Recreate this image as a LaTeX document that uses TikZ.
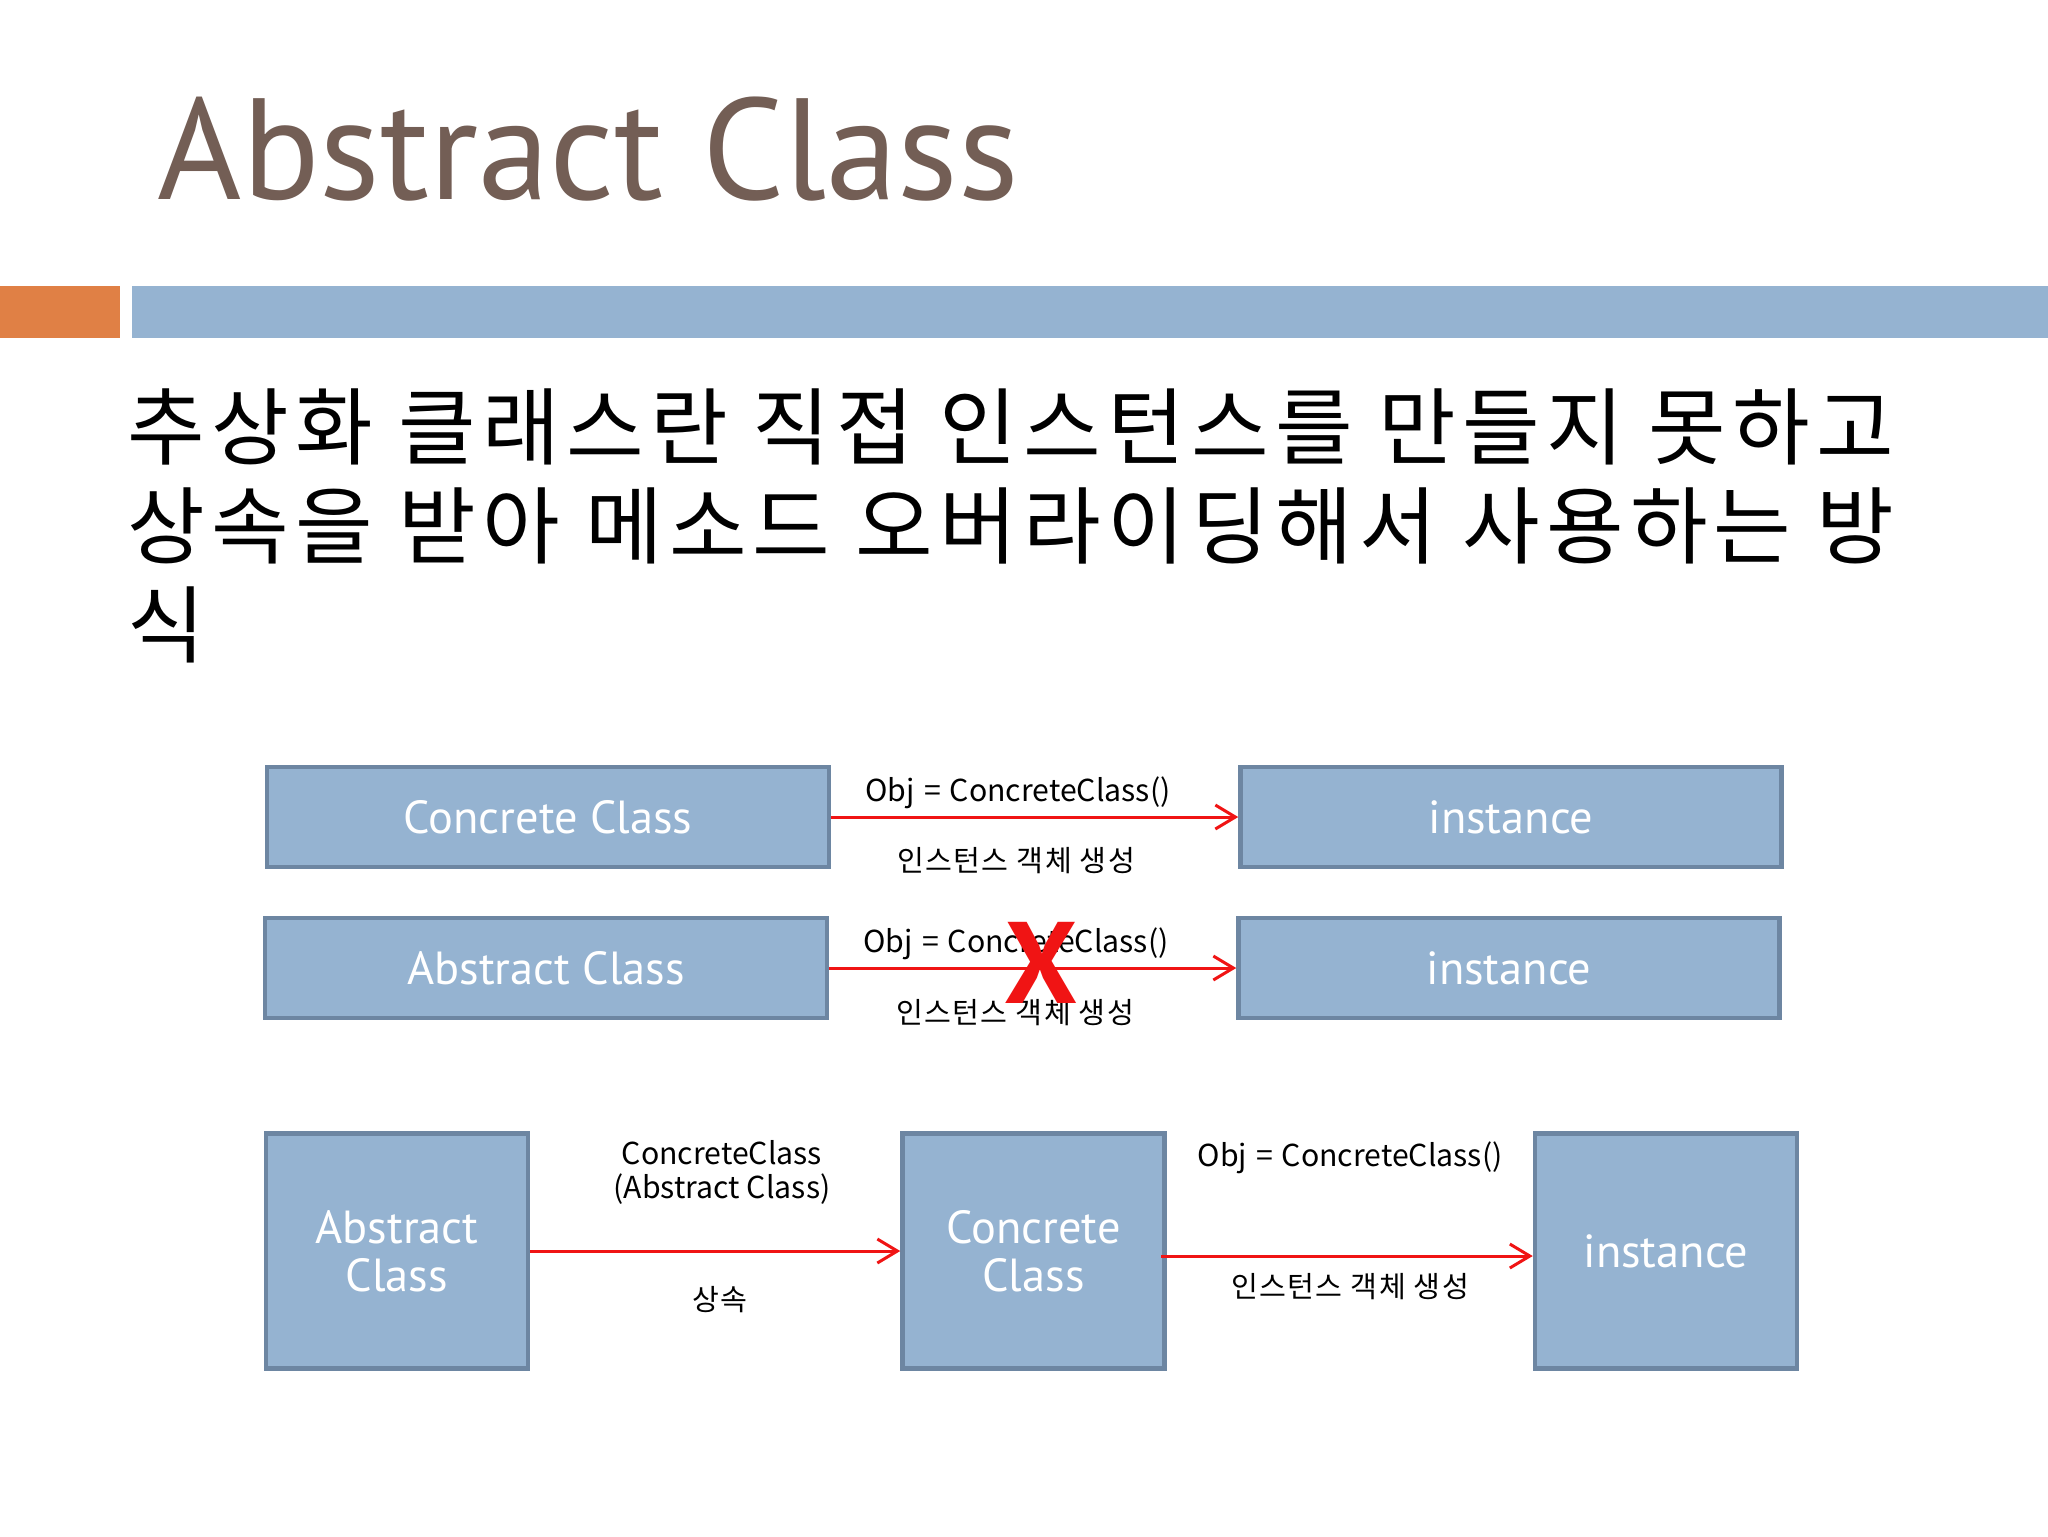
\documentclass[tikz,border=0pt]{standalone}
\usepackage{fontspec}
\setmainfont{PT Sans}
\newfontfamily\krfont{Noto Sans CJK KR}
\newfontfamily\krwide[LetterSpace=7.5]{Noto Sans CJK KR}
\newfontfamily\krsmall[LetterSpace=5]{Noto Sans CJK KR}
\usetikzlibrary{positioning, arrows.meta}
\definecolor{slidebrown}{RGB}{115,94,85}
\definecolor{slideorange}{RGB}{224,128,69}
\definecolor{slideblue}{RGB}{149,179,209}
\definecolor{boxedge}{RGB}{109,134,162}
\definecolor{linkred}{RGB}{240,20,20}

\begin{document}
\begin{tikzpicture}[
        x=0.1mm, y=-0.1mm,
        node distance = 5mm and 40.7mm,
        classbox/.style = {draw=boxedge, line width=0.45mm, fill=slideblue, minimum height=10mm, align=center, text=white, font=\fontsize{13.2}{13.7}\selectfont},
        widebox/.style = {classbox, minimum width=56.2mm},
        tallbox/.style = {classbox, minimum width=26.2mm, minimum height=23.5mm},
        introline/.style = {anchor=base west, inner sep=0, font=\krwide\fontsize{24}{28}\selectfont},
        codelabel/.style = {inner sep=0, align=center, font=\krfont\fontsize{8.6}{9.7}\selectfont},
        krlabel/.style = {inner sep=0, font=\krsmall\fontsize{8.3}{9}\selectfont},
        redarrow/.style = {-{Straight Barb[length=2mm, width=2.4mm]}, linkred, line width=0.3mm},
    ]
    \fill[white] (0,0) rectangle (2048,1536);
    \useasboundingbox (0,0) rectangle (2048,1536);
    % header
    \node[anchor=base west, inner sep=0, text=slidebrown, font=\fontsize{41}{41}\selectfont] (title) at (157,199) {Abstract Class};
    \fill[slideorange] (0,286) rectangle (120,338);
    \fill[slideblue] (132,286) rectangle (2048,338);
    \node[introline] (intro1) at (127,458) {추상화 클래스란 직접 인스턴스를 만들지 못하고};
    \node[introline] (intro2) at (127,557) {상속을 받아 메소드 오버라이딩해서 사용하는 방};
    \node[introline] (intro3) at (127,656) {식};
    % row 1
    \node[widebox] (concrete1) at (548,817) {Concrete Class};
    \node[widebox, minimum width=54.1mm, right=of concrete1] (inst1) {instance};
    \draw[redarrow] (concrete1) -- (inst1);
    \node[codelabel] (obj1) at (1018,793) {Obj\hspace{.3em}=\hspace{.3em}ConcreteClass()};
    \node[krlabel] (make1) at (1016,861) {인스턴스 객체 생성};
    % row 2
    \node[widebox] (abstract2) at (546,968) {Abstract Class};
    \node[widebox, minimum width=54.1mm, right=of abstract2] (inst2) {instance};
    \draw[redarrow] (abstract2) -- (inst2);
    \node[codelabel] (obj2) at (1016,944) {Obj\hspace{.3em}=\hspace{.3em}ConcreteClass()};
    \node[krlabel] (make2) at (1015,1013) {인스턴스 객체 생성};
    \node[inner sep=0, text=linkred, font=\bfseries\fontsize{33}{33}\selectfont] (nope) at (1041,963) {X};
    % row 3
    \node[tallbox] (abstract3) at (397,1251) {Abstract\\Class};
    \node[tallbox, right=37mm of abstract3] (concrete3) {Concrete\\Class};
    \node[tallbox, right=36.6mm of concrete3] (inst3) {instance};
    \draw[redarrow] (abstract3) -- (concrete3);
    \draw[redarrow] ([xshift=-0.6mm, yshift=-0.5mm]concrete3.east) -- ([yshift=-0.5mm]inst3.west);
    \node[codelabel] (sub3) at (722,1172) {ConcreteClass\\(Abstract Class)};
    \node[krlabel] (inherit3) at (720,1300) {상속};
    \node[codelabel] (obj3) at (1350,1158) {Obj\hspace{.3em}=\hspace{.3em}ConcreteClass()};
    \node[krlabel] (make3) at (1350,1287) {인스턴스 객체 생성};
\end{tikzpicture}
\end{document}
